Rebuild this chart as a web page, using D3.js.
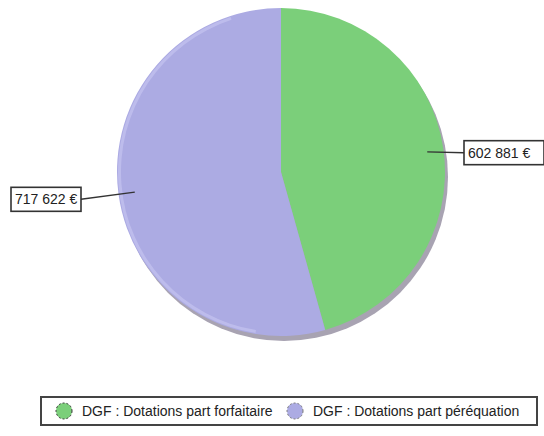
<!DOCTYPE html>
<html>
<head>
<meta charset="utf-8">
<script src="https://cdn.jsdelivr.net/npm/d3@7/dist/d3.min.js"></script>
<style>
  html, body { margin: 0; padding: 0; background: #fff; }
  svg { display: block; }
  text { font-family: "Liberation Sans", Arial, sans-serif; fill: #222; }
</style>
</head>
<body>
<svg id="chart" width="544" height="436"></svg>
<script>
// DGF split: lump-sum part vs. equalisation part
const categories = ["DGF : Dotations part forfaitaire", "DGF : Dotations part péréquation"];
const values = [602881, 717622];
const colors = ["#7bcf7a", "#acabe3"];
const legendStroke = ["#333", "#777"];

const cx = 281, cy = 172, R = 164;

const fr = d3.formatLocale({ decimal: ",", thousands: " ", grouping: [3], currency: ["", " €"] });
const fmt = fr.format("$,.0f");

const svg = d3.select("#chart");

const data = categories.map((c, i) => ({ name: c, value: values[i], color: colors[i], stroke: legendStroke[i] }));
const pie = d3.pie().sort(null).value(d => d.value);
const arcs = pie(data);
const arc = d3.arc().innerRadius(0).outerRadius(R);

const g = svg.append("g").attr("transform", `translate(${cx},${cy})`);

// drop shadow under the disc
g.append("circle")
  .attr("cx", 3).attr("cy", 5).attr("r", R)
  .attr("fill", "#a8a3b2");

g.selectAll("path.slice")
  .data(arcs)
  .join("path")
  .attr("class", "slice")
  .attr("d", arc)
  .attr("fill", d => d.data.color);

// light rim on the upper-left edge
g.append("path")
  .attr("d", d3.arc().innerRadius(R - 4).outerRadius(R - 1).startAngle(-Math.PI * 0.95).endAngle(-Math.PI * 0.1)())
  .attr("fill", "#c4c3f0").attr("opacity", 0.7);

// value labels with leader lines
const labelLayout = [
  { side: 1, gap: 19, dy: 3, w: 80, h: 24 },
  { side: -1, gap: 36, dy: 5, w: 70, h: 24 }
];

arcs.forEach((a, i) => {
  const L = labelLayout[i];
  const mid = (a.startAngle + a.endAngle) / 2;
  const sx = cx + Math.sin(mid) * R * 0.9;
  const sy = cy - Math.cos(mid) * R * 0.9;
  const ey = cy - Math.cos(mid) * R + L.dy;
  const ex = L.side > 0 ? cx + R + L.gap : cx - R - L.gap;
  svg.append("line")
    .attr("x1", sx).attr("y1", sy).attr("x2", ex).attr("y2", ey)
    .attr("stroke", "#333").attr("stroke-width", 1.4);
  const bx = L.side > 0 ? ex : ex - L.w;
  svg.append("rect")
    .attr("x", bx).attr("y", ey - L.h / 2)
    .attr("width", L.w).attr("height", L.h)
    .attr("fill", "#fff").attr("stroke", "#333").attr("stroke-width", 1.6);
  svg.append("text")
    .attr("x", bx + 4).attr("y", ey + 5)
    .attr("font-size", 14)
    .text(fmt(a.data.value));
});

// legend
const lg = svg.append("g");
lg.append("rect")
  .attr("x", 41).attr("y", 397).attr("width", 496).attr("height", 28)
  .attr("fill", "#fff").attr("stroke", "#444").attr("stroke-width", 2);

const legendX = [64, 295];
data.forEach((d, i) => {
  lg.append("circle")
    .attr("cx", legendX[i]).attr("cy", 411).attr("r", 8)
    .attr("fill", d.color)
    .attr("stroke", d.stroke).attr("stroke-width", 1)
    .attr("stroke-dasharray", "2,2");
  lg.append("text")
    .attr("x", legendX[i] + 18).attr("y", 416)
    .attr("font-size", 14)
    .text(d.name);
});
</script>
</body>
</html>
